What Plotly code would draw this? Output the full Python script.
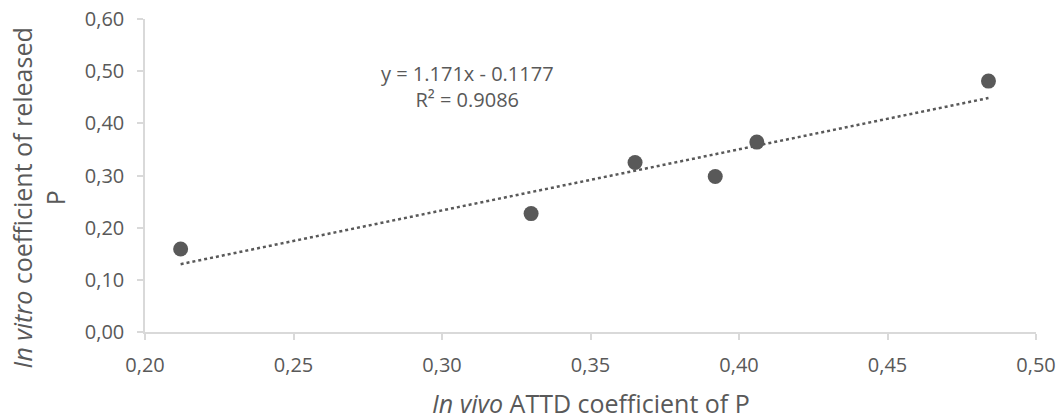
import numpy as np
import plotly.graph_objects as go

x_invivo = [0.212, 0.330, 0.365, 0.392, 0.406, 0.484]
y_invitro = [0.159, 0.227, 0.325, 0.298, 0.364, 0.481]
x_ticks = [0.20, 0.25, 0.30, 0.35, 0.40, 0.45, 0.50]
y_ticks = [0.00, 0.10, 0.20, 0.30, 0.40, 0.50, 0.60]
eq_text = "y = 1.171x - 0.1177<br>R² = 0.9086"
x_title = "<i>In vivo</i> ATTD coefficient of P"
y_title = "<i>In vitro</i> coefficient of released<br>P"

slope, intercept = np.polyfit(x_invivo, y_invitro, 1)
tx = np.linspace(min(x_invivo), max(x_invivo), 50)
ty = slope * tx + intercept

grey = "#595959"
axis_col = "#d9d9d9"
font = "Open Sans"

fig = go.Figure()
fig.add_trace(go.Scatter(x=tx, y=ty, mode="lines",
                         line=dict(color=grey, width=2.5, dash="dot"),
                         showlegend=False, hoverinfo="skip"))
fig.add_trace(go.Scatter(x=x_invivo, y=y_invitro, mode="markers",
                         marker=dict(color=grey, size=15),
                         showlegend=False))

fig.add_annotation(x=0.3085, y=0.47, xref="x", yref="y", text=eq_text,
                   showarrow=False, align="center",
                   font=dict(family=font, size=20, color=grey))

fig.add_annotation(x=-0.1197, y=0.428, xref="paper", yref="paper",
                   text=y_title, textangle=-90, showarrow=False,
                   xanchor="center", yanchor="middle", align="center",
                   font=dict(family=font, size=25, color=grey))
fig.add_annotation(x=0.5, y=-0.226, xref="paper", yref="paper",
                   text=x_title, showarrow=False,
                   xanchor="center", yanchor="middle",
                   font=dict(family=font, size=25, color=grey))

fig.update_layout(
    width=1059, height=419,
    margin=dict(l=145, r=23, t=19, b=87),
    paper_bgcolor="white", plot_bgcolor="white",
    font=dict(family=font, color=grey, size=20),
    xaxis=dict(range=[0.20, 0.50], tickvals=x_ticks,
               ticktext=[f"{v:.2f}".replace(".", ",") for v in x_ticks],
               showgrid=False, zeroline=False, showline=True, automargin=False,
               linecolor=axis_col, linewidth=1.5,
               ticks="outside", ticklen=6, tickcolor=axis_col, tickwidth=1.5,
               ticklabelstandoff=8,
               tickfont=dict(size=20, color=grey)),
    yaxis=dict(range=[0.0, 0.60], tickvals=y_ticks,
               ticktext=[f"{v:.2f}".replace(".", ",") for v in y_ticks],
               showgrid=False, zeroline=False, showline=True, automargin=False,
               linecolor=axis_col, linewidth=1.5,
               ticks="outside", ticklen=6, tickcolor=axis_col, tickwidth=1.5,
               ticklabelstandoff=9,
               tickfont=dict(size=20, color=grey)),
)

fig.write_html("out.html")
